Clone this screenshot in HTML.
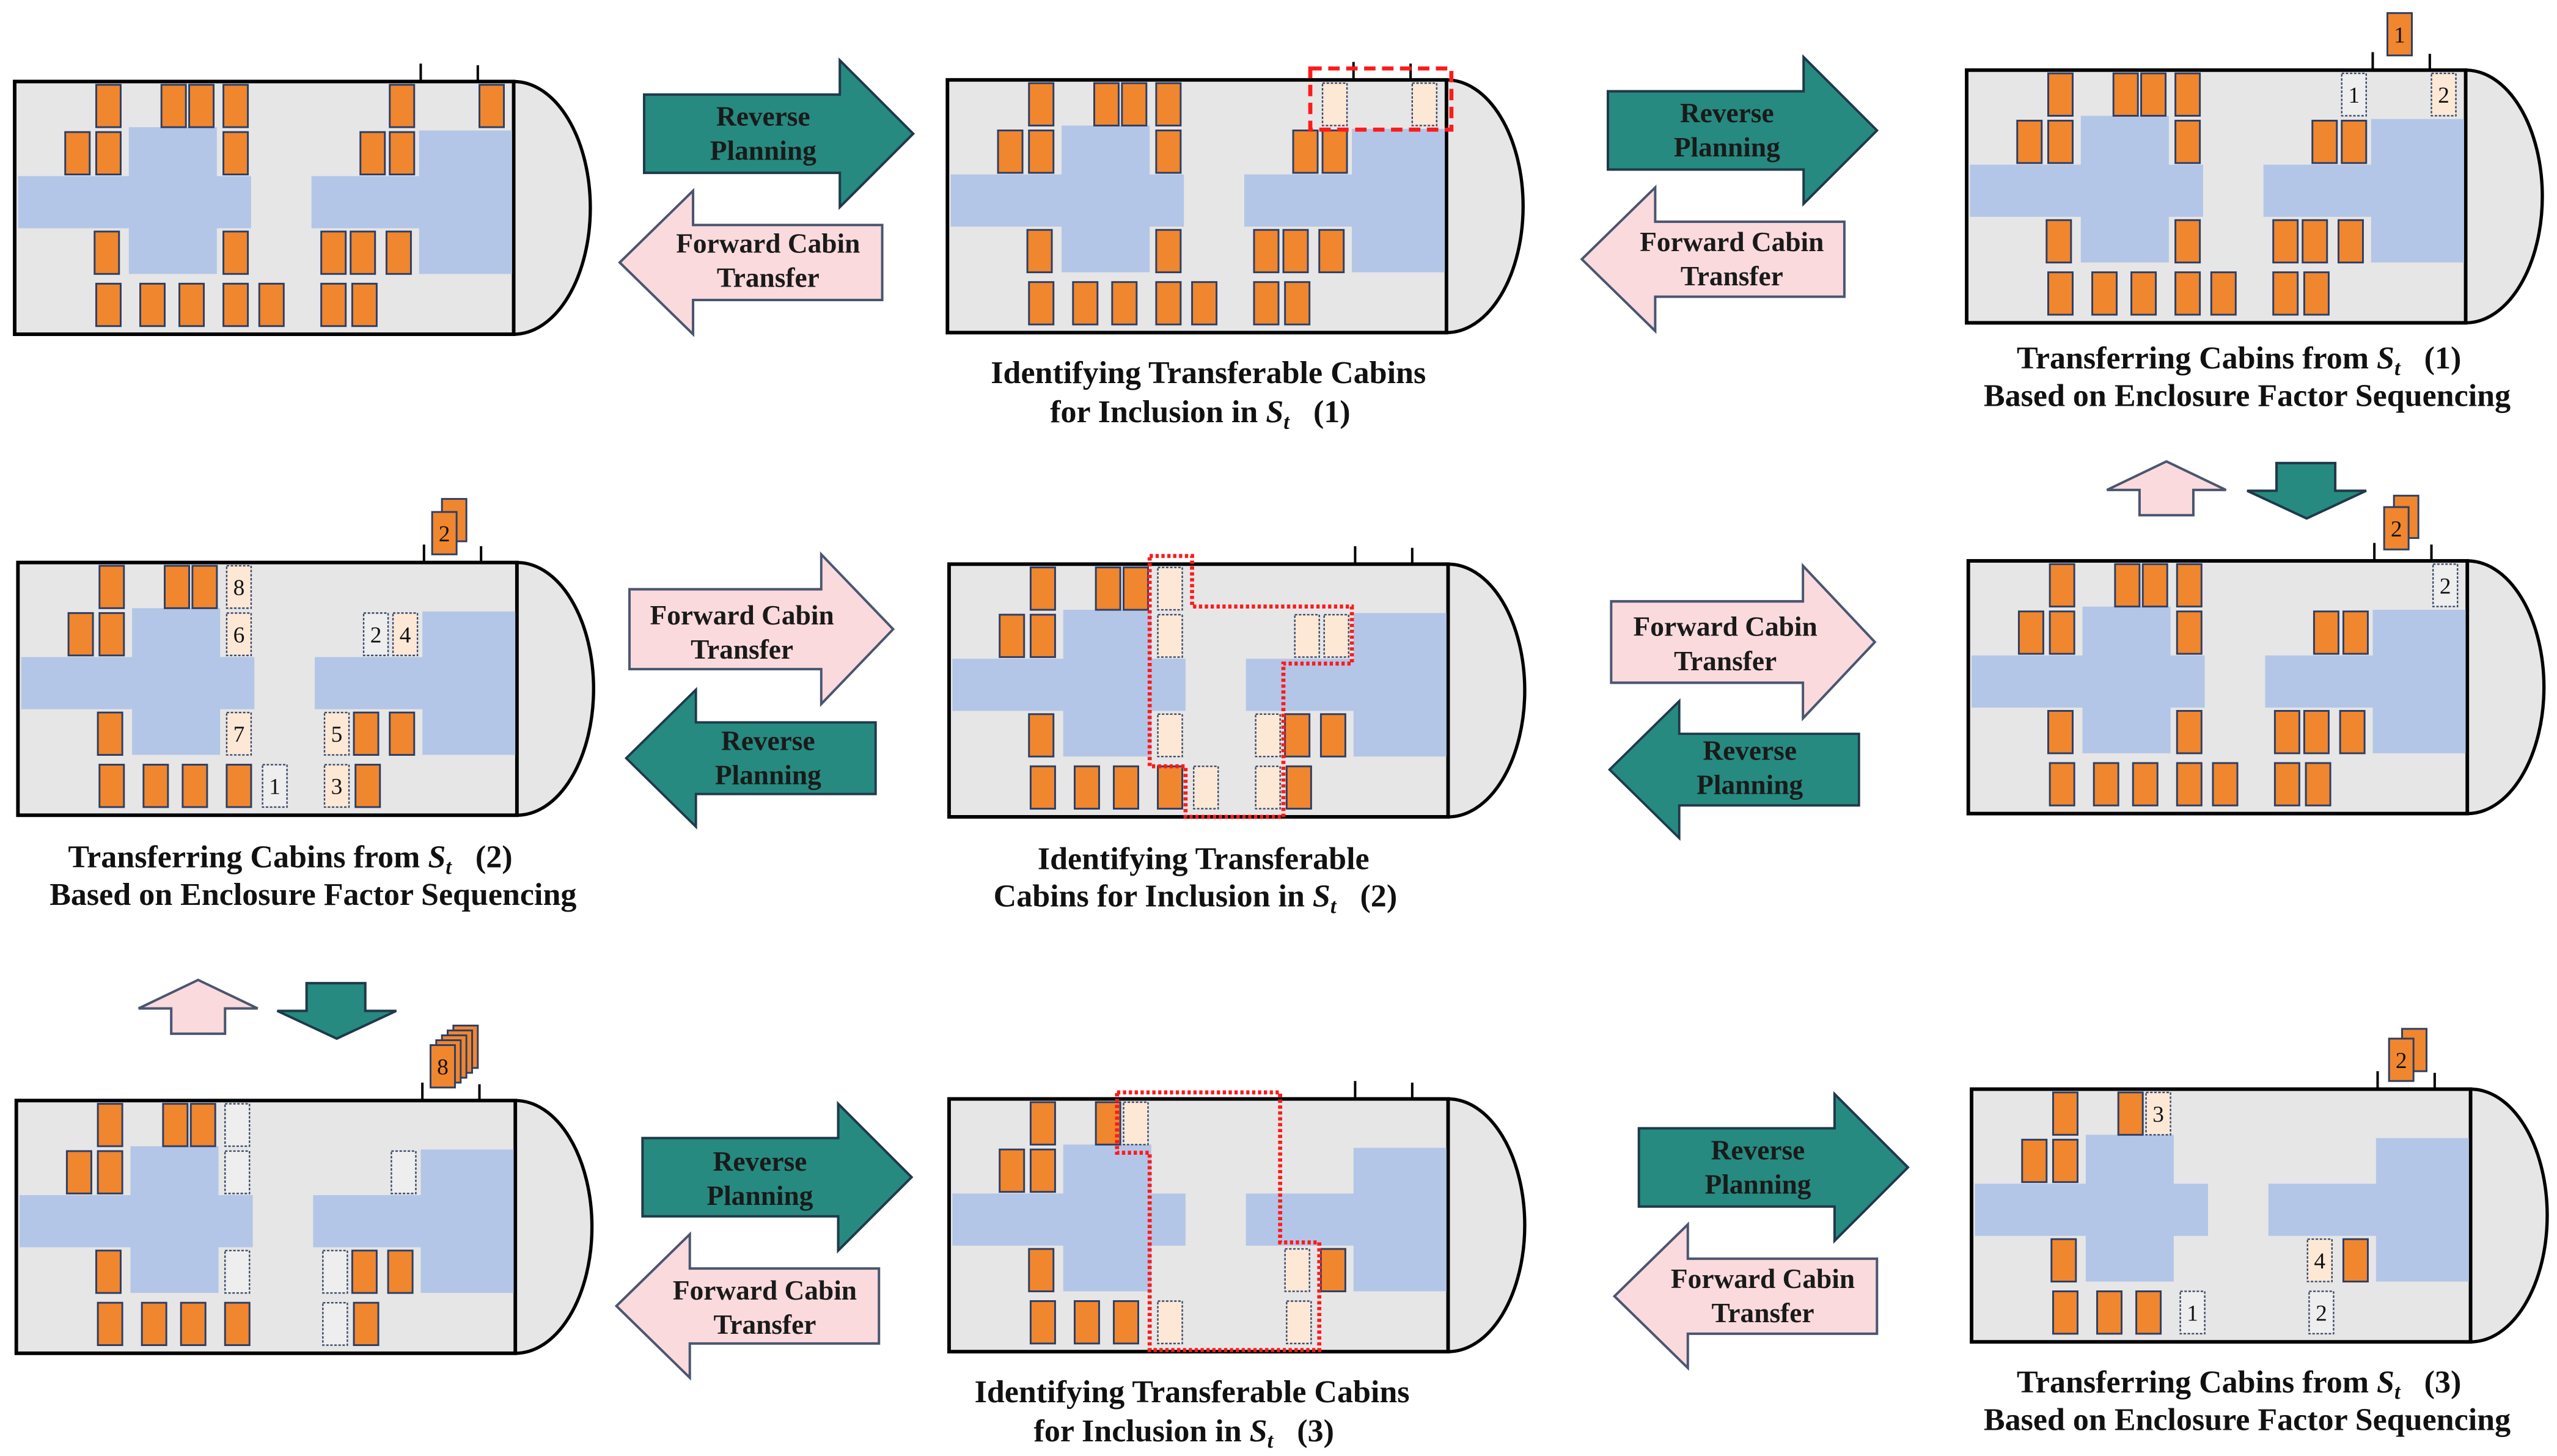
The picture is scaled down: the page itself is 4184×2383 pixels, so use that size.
<!DOCTYPE html>
<html><head><meta charset="utf-8"><style>
html,body{margin:0;padding:0;background:#fff;}
svg{display:block;}
.cap{font-family:"Liberation Serif",serif;font-weight:bold;font-size:19.5px;fill:#111;text-anchor:middle;}
.at{font-family:"Liberation Serif",serif;font-weight:bold;font-size:17px;fill:#1a1a1a;text-anchor:middle;}
.num{font-family:"Liberation Serif",serif;font-size:14px;fill:#111;text-anchor:middle;}
</style></head><body>
<svg width="4184" height="2383" viewBox="0 0 1568 893" preserveAspectRatio="none" xmlns="http://www.w3.org/2000/svg">
<defs>
<g id="body">
  <path d="M306,0 A47,77.5 0 0 1 306,155" fill="#e6e6e6" stroke="#000" stroke-width="2"/>
  <rect x="0" y="0" width="306" height="155" fill="#e6e6e6" stroke="#000" stroke-width="2.2"/>
  <path d="M2,58 H70 V28 H124 V58 H145 V90 H124 V118 H70 V90 H2 Z" fill="#b4c6e7"/>
  <path d="M182,58 H248 V30 H305 V118 H248 V90 H182 Z" fill="#b4c6e7"/>
  <line x1="249" y1="-11" x2="249" y2="0" stroke="#000" stroke-width="1.5"/>
  <line x1="284" y1="-10" x2="284" y2="0" stroke="#000" stroke-width="1.5"/>
</g>
<rect id="c" x="0" y="0" width="15" height="26" fill="#f0862e" stroke="#2c3e66" stroke-width="1.1"/>
<rect id="p" x="0" y="0" width="15" height="26" fill="#fde8d6" stroke="#3a4a6a" stroke-width="0.9" stroke-dasharray="1.5 1"/>
<rect id="w" x="0" y="0" width="15" height="26" fill="#eeeeee" stroke="#3a4a6a" stroke-width="0.9" stroke-dasharray="1.5 1"/>
<path id="ar" d="M0,21 H120 V0 L165,45 L120,90 V69 H0 Z"/>
<path id="al" d="M161,21 H45 V0 L0,44 L45,88 V67 H161 Z"/>
<path id="au" d="M0,17.5 L36.5,0 L73,17.5 H53 V33 H20 V17.5 Z"/>
<path id="ad" d="M18,0 H54 V17 H73 L36.5,34 L0,17 H18 Z"/>
</defs>

<!-- Bus A -->
<g transform="translate(9,50)">
<use href="#body"/>
<use href="#c" x="50" y="2"/><use href="#c" x="90" y="2"/><use href="#c" x="107" y="2"/><use href="#c" x="128" y="2"/><use href="#c" x="230" y="2"/><use href="#c" x="285" y="2"/>
<use href="#c" x="31" y="31"/><use href="#c" x="50" y="31"/><use href="#c" x="128" y="31"/><use href="#c" x="212" y="31"/><use href="#c" x="230" y="31"/>
<use href="#c" x="49" y="92"/><use href="#c" x="128" y="92"/><use href="#c" x="188" y="92"/><use href="#c" x="206" y="92"/><use href="#c" x="228" y="92"/>
<use href="#c" x="50" y="124"/><use href="#c" x="77" y="124"/><use href="#c" x="101" y="124"/><use href="#c" x="128" y="124"/><use href="#c" x="150" y="124"/><use href="#c" x="188" y="124"/><use href="#c" x="207" y="124"/>
</g>

<!-- Bus B -->
<g transform="translate(581,49)">
<use href="#body"/>
<use href="#c" x="50" y="2"/><use href="#c" x="90" y="2"/><use href="#c" x="107" y="2"/><use href="#c" x="128" y="2"/><use href="#p" x="230" y="2"/><use href="#p" x="285" y="2"/>
<use href="#c" x="31" y="31"/><use href="#c" x="50" y="31"/><use href="#c" x="128" y="31"/><use href="#c" x="212" y="31"/><use href="#c" x="230" y="31"/>
<use href="#c" x="49" y="92"/><use href="#c" x="128" y="92"/><use href="#c" x="188" y="92"/><use href="#c" x="206" y="92"/><use href="#c" x="228" y="92"/>
<use href="#c" x="50" y="124"/><use href="#c" x="77" y="124"/><use href="#c" x="101" y="124"/><use href="#c" x="128" y="124"/><use href="#c" x="150" y="124"/><use href="#c" x="188" y="124"/><use href="#c" x="207" y="124"/>
<rect x="222.5" y="-7" width="86.5" height="37.5" fill="none" stroke="#ff1a1a" stroke-width="2.5" stroke-dasharray="7 4"/>
</g>

<!-- Bus C -->
<g transform="translate(1206,43)">
<use href="#body"/>
<use href="#c" x="50" y="2"/><use href="#c" x="90" y="2"/><use href="#c" x="107" y="2"/><use href="#c" x="128" y="2"/><use href="#w" x="230" y="2"/><use href="#p" x="285" y="2"/>
<text class="num" x="237.5" y="20">1</text><text class="num" x="292.5" y="20">2</text>
<use href="#c" x="31" y="31"/><use href="#c" x="50" y="31"/><use href="#c" x="128" y="31"/><use href="#c" x="212" y="31"/><use href="#c" x="230" y="31"/>
<use href="#c" x="49" y="92"/><use href="#c" x="128" y="92"/><use href="#c" x="188" y="92"/><use href="#c" x="206" y="92"/><use href="#c" x="228" y="92"/>
<use href="#c" x="50" y="124"/><use href="#c" x="77" y="124"/><use href="#c" x="101" y="124"/><use href="#c" x="128" y="124"/><use href="#c" x="150" y="124"/><use href="#c" x="188" y="124"/><use href="#c" x="207" y="124"/>
<use href="#c" x="258" y="-35" height="24"/>
<text class="num" x="265.5" y="-17">1</text>
</g>

<!-- Bus D -->
<g transform="translate(11,345)">
<use href="#body"/>
<use href="#c" x="50" y="2"/><use href="#c" x="90" y="2"/><use href="#c" x="107" y="2"/><use href="#p" x="128" y="2"/>
<use href="#c" x="31" y="31"/><use href="#c" x="50" y="31"/><use href="#p" x="128" y="31"/><use href="#w" x="212" y="31"/><use href="#p" x="230" y="31"/>
<use href="#c" x="49" y="92"/><use href="#p" x="128" y="92"/><use href="#p" x="188" y="92"/><use href="#c" x="206" y="92"/><use href="#c" x="228" y="92"/>
<use href="#c" x="50" y="124"/><use href="#c" x="77" y="124"/><use href="#c" x="101" y="124"/><use href="#c" x="128" y="124"/><use href="#w" x="150" y="124"/><use href="#p" x="188" y="124"/><use href="#c" x="207" y="124"/>
<text class="num" x="135.5" y="20">8</text><text class="num" x="135.5" y="49">6</text><text class="num" x="219.5" y="49">2</text><text class="num" x="237.5" y="49">4</text>
<text class="num" x="135.5" y="110">7</text><text class="num" x="195.5" y="110">5</text><text class="num" x="157.5" y="142">1</text><text class="num" x="195.5" y="142">3</text>
<use href="#c" x="260" y="-39"/><use href="#c" x="254" y="-31"/>
<text class="num" x="261.5" y="-13">2</text>
</g>

<!-- Bus E -->
<g transform="translate(582,346)">
<use href="#body"/>
<use href="#c" x="50" y="2"/><use href="#c" x="90" y="2"/><use href="#c" x="107" y="2"/><use href="#p" x="128" y="2"/>
<use href="#c" x="31" y="31"/><use href="#c" x="50" y="31"/><use href="#p" x="128" y="31"/><use href="#p" x="212" y="31"/><use href="#p" x="230" y="31"/>
<use href="#c" x="49" y="92"/><use href="#p" x="128" y="92"/><use href="#p" x="188" y="92"/><use href="#c" x="206" y="92"/><use href="#c" x="228" y="92"/>
<use href="#c" x="50" y="124"/><use href="#c" x="77" y="124"/><use href="#c" x="101" y="124"/><use href="#c" x="128" y="124"/><use href="#p" x="150" y="124"/><use href="#p" x="188" y="124"/><use href="#c" x="207" y="124"/>
<path d="M123,-5 H149 V26 H247 V61 H205 V155 H145 V124 H123 Z" fill="none" stroke="#ff1a1a" stroke-width="2.5" stroke-dasharray="2 1.6"/>
</g>

<!-- Bus F -->
<g transform="translate(1207,344)">
<use href="#body"/>
<use href="#c" x="50" y="2"/><use href="#c" x="90" y="2"/><use href="#c" x="107" y="2"/><use href="#c" x="128" y="2"/><use href="#w" x="285" y="2"/>
<text class="num" x="292.5" y="20">2</text>
<use href="#c" x="31" y="31"/><use href="#c" x="50" y="31"/><use href="#c" x="128" y="31"/><use href="#c" x="212" y="31"/><use href="#c" x="230" y="31"/>
<use href="#c" x="49" y="92"/><use href="#c" x="128" y="92"/><use href="#c" x="188" y="92"/><use href="#c" x="206" y="92"/><use href="#c" x="228" y="92"/>
<use href="#c" x="50" y="124"/><use href="#c" x="77" y="124"/><use href="#c" x="101" y="124"/><use href="#c" x="128" y="124"/><use href="#c" x="150" y="124"/><use href="#c" x="188" y="124"/><use href="#c" x="207" y="124"/>
<use href="#c" x="261" y="-40"/><use href="#c" x="255" y="-33"/>
<text class="num" x="262.5" y="-15">2</text>
</g>

<!-- Bus G -->
<g transform="translate(10,675)">
<use href="#body"/>
<use href="#c" x="50" y="2"/><use href="#c" x="90" y="2"/><use href="#c" x="107" y="2"/><use href="#w" x="128" y="2"/>
<use href="#c" x="31" y="31"/><use href="#c" x="50" y="31"/><use href="#w" x="128" y="31"/><use href="#w" x="230" y="31"/>
<use href="#c" x="49" y="92"/><use href="#w" x="128" y="92"/><use href="#w" x="188" y="92"/><use href="#c" x="206" y="92"/><use href="#c" x="228" y="92"/>
<use href="#c" x="50" y="124"/><use href="#c" x="77" y="124"/><use href="#c" x="101" y="124"/><use href="#c" x="128" y="124"/><use href="#w" x="188" y="124"/><use href="#c" x="207" y="124"/>
<use href="#c" x="268" y="-46"/><use href="#c" x="264.5" y="-43"/><use href="#c" x="261" y="-40"/><use href="#c" x="257.5" y="-37"/><use href="#c" x="254" y="-34"/>
<text class="num" x="261.5" y="-16">8</text>
</g>

<!-- Bus H -->
<g transform="translate(582,674)">
<use href="#body"/>
<use href="#c" x="50" y="2"/><use href="#c" x="90" y="2"/><use href="#p" x="107" y="2"/>
<use href="#c" x="31" y="31"/><use href="#c" x="50" y="31"/>
<use href="#c" x="49" y="92"/><use href="#p" x="206" y="92"/><use href="#c" x="228" y="92"/>
<use href="#c" x="50" y="124"/><use href="#c" x="77" y="124"/><use href="#c" x="101" y="124"/><use href="#p" x="128" y="124"/><use href="#p" x="207" y="124"/>
<path d="M103,-4 H203 V88 H227 V154 H123 V33 H103 Z" fill="none" stroke="#ff1a1a" stroke-width="2.5" stroke-dasharray="2 1.6"/>
</g>

<!-- Bus I -->
<g transform="translate(1209,668)">
<use href="#body"/>
<use href="#c" x="50" y="2"/><use href="#c" x="90" y="2"/><use href="#p" x="107" y="2"/>
<use href="#c" x="31" y="31"/><use href="#c" x="50" y="31"/>
<use href="#c" x="49" y="92"/><use href="#p" x="206" y="92"/><use href="#c" x="228" y="92"/>
<use href="#c" x="50" y="124"/><use href="#c" x="77" y="124"/><use href="#c" x="101" y="124"/><use href="#w" x="128" y="124"/><use href="#w" x="207" y="124"/>
<text class="num" x="114.5" y="20">3</text><text class="num" x="213.5" y="110">4</text><text class="num" x="135.5" y="142">1</text><text class="num" x="214.5" y="142">2</text>
<use href="#c" x="264" y="-37"/><use href="#c" x="256" y="-31"/>
<text class="num" x="263.5" y="-13">2</text>
</g>

<!-- Horizontal arrows -->
<g fill="#268a80" stroke="#1f3a4a" stroke-width="1.5">
<use href="#ar" transform="translate(395,37)"/>
<use href="#ar" transform="translate(986,35)"/>
<use href="#al" transform="translate(384,423) scale(0.95,0.955)"/>
<use href="#al" transform="translate(987,430) scale(0.95,0.955)"/>
<use href="#ar" transform="translate(394,677)"/>
<use href="#ar" transform="translate(1005,671)"/>
</g>
<g fill="#fadadd" stroke="#4a5670" stroke-width="1.5">
<use href="#al" transform="translate(380,117)"/>
<use href="#al" transform="translate(970,115)"/>
<use href="#ar" transform="translate(386,340) scale(0.98,1.02)"/>
<use href="#ar" transform="translate(988,347) scale(0.98,1.04)"/>
<use href="#al" transform="translate(378,757)"/>
<use href="#al" transform="translate(990,751)"/>
</g>
<!-- Vertical arrows -->
<use href="#au" transform="translate(1292,283)" fill="#fadadd" stroke="#4a5670" stroke-width="1.5"/>
<use href="#ad" transform="translate(1378,284)" fill="#268a80" stroke="#1f3a4a" stroke-width="1.5"/>
<use href="#au" transform="translate(85,601)" fill="#fadadd" stroke="#4a5670" stroke-width="1.5"/>
<use href="#ad" transform="translate(170,603)" fill="#268a80" stroke="#1f3a4a" stroke-width="1.5"/>

<!-- Arrow labels -->
<text class="at" x="468" y="77">Reverse</text><text class="at" x="468" y="98">Planning</text>
<text class="at" x="471" y="155">Forward Cabin</text><text class="at" x="471" y="176">Transfer</text>
<text class="at" x="1059" y="75">Reverse</text><text class="at" x="1059" y="96">Planning</text>
<text class="at" x="1062" y="154">Forward Cabin</text><text class="at" x="1062" y="175">Transfer</text>
<text class="at" x="455" y="383">Forward Cabin</text><text class="at" x="455" y="404">Transfer</text>
<text class="at" x="471" y="460">Reverse</text><text class="at" x="471" y="481">Planning</text>
<text class="at" x="1058" y="390">Forward Cabin</text><text class="at" x="1058" y="411">Transfer</text>
<text class="at" x="1073" y="466">Reverse</text><text class="at" x="1073" y="487">Planning</text>
<text class="at" x="466" y="718">Reverse</text><text class="at" x="466" y="739">Planning</text>
<text class="at" x="469" y="797">Forward Cabin</text><text class="at" x="469" y="818">Transfer</text>
<text class="at" x="1078" y="711">Reverse</text><text class="at" x="1078" y="732">Planning</text>
<text class="at" x="1081" y="790">Forward Cabin</text><text class="at" x="1081" y="811">Transfer</text>

<!-- Captions -->
<text class="cap" x="741" y="235">Identifying Transferable Cabins</text>
<text class="cap" x="736" y="259">for Inclusion in <tspan font-style="italic">S</tspan><tspan font-style="italic" font-size="13" dy="4">t</tspan><tspan dy="-4" xml:space="preserve">   (1)</tspan></text>
<text class="cap" x="1373" y="226">Transferring Cabins from <tspan font-style="italic">S</tspan><tspan font-style="italic" font-size="13" dy="4">t</tspan><tspan dy="-4" xml:space="preserve">   (1)</tspan></text>
<text class="cap" x="1378" y="249">Based on Enclosure Factor Sequencing</text>
<text class="cap" x="178" y="532">Transferring Cabins from <tspan font-style="italic">S</tspan><tspan font-style="italic" font-size="13" dy="4">t</tspan><tspan dy="-4" xml:space="preserve">   (2)</tspan></text>
<text class="cap" x="192" y="555">Based on Enclosure Factor Sequencing</text>
<text class="cap" x="738" y="533">Identifying Transferable</text>
<text class="cap" x="733" y="556">Cabins for Inclusion in <tspan font-style="italic">S</tspan><tspan font-style="italic" font-size="13" dy="4">t</tspan><tspan dy="-4" xml:space="preserve">   (2)</tspan></text>
<text class="cap" x="731" y="860">Identifying Transferable Cabins</text>
<text class="cap" x="726" y="884">for Inclusion in <tspan font-style="italic">S</tspan><tspan font-style="italic" font-size="13" dy="4">t</tspan><tspan dy="-4" xml:space="preserve">   (3)</tspan></text>
<text class="cap" x="1373" y="854">Transferring Cabins from <tspan font-style="italic">S</tspan><tspan font-style="italic" font-size="13" dy="4">t</tspan><tspan dy="-4" xml:space="preserve">   (3)</tspan></text>
<text class="cap" x="1378" y="877">Based on Enclosure Factor Sequencing</text>
</svg>
</body></html>
